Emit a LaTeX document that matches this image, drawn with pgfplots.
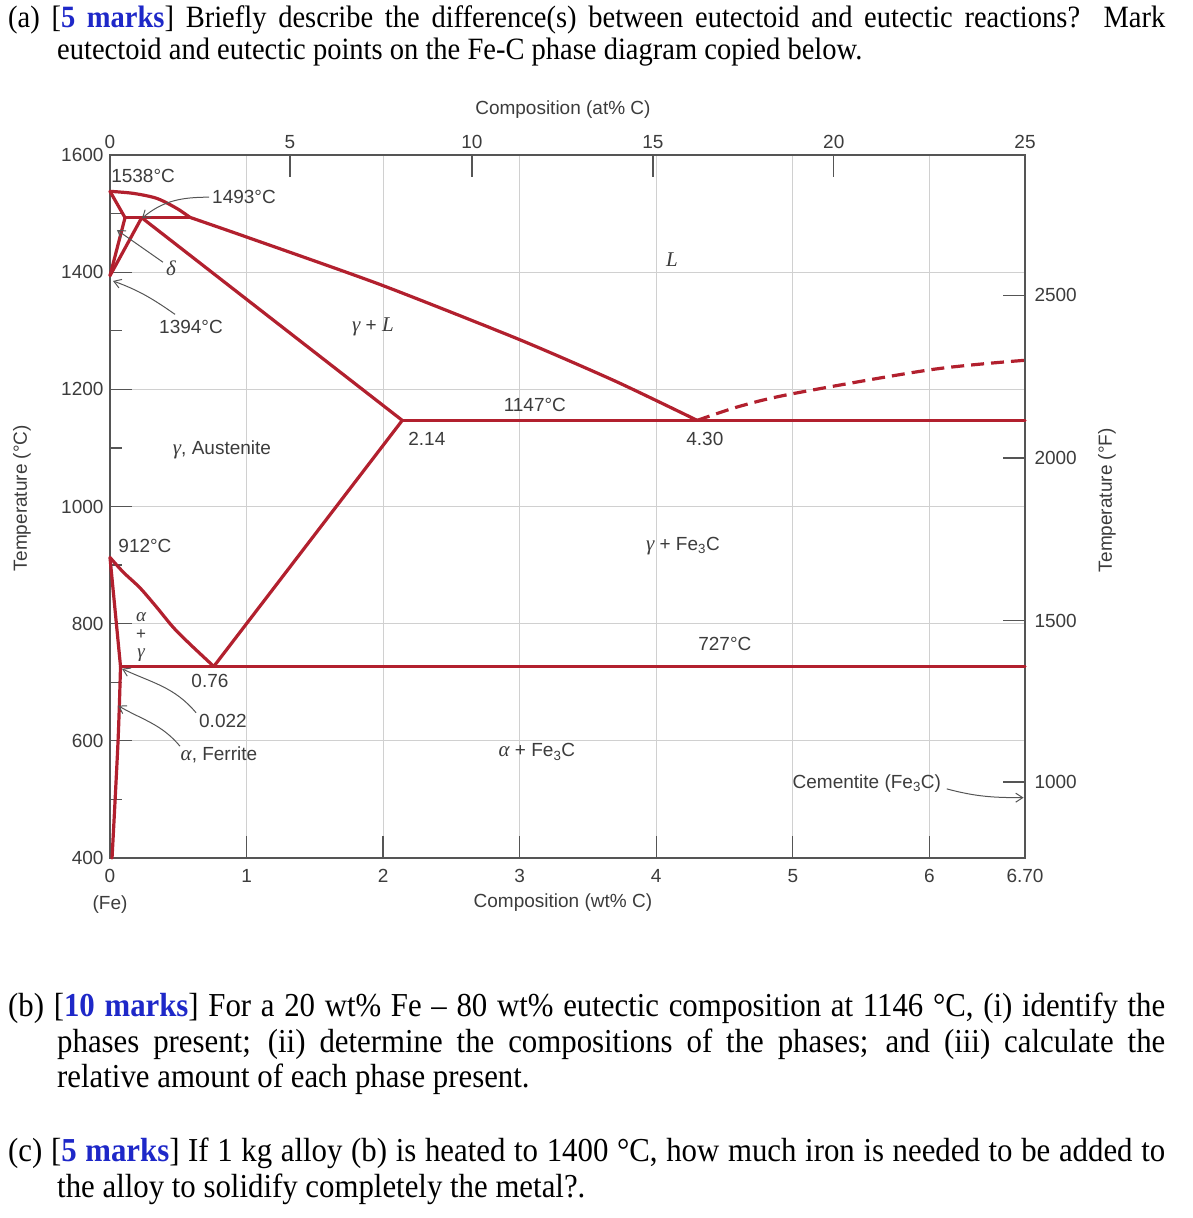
\documentclass[border=0pt]{standalone}
\usepackage{fontspec}
\setmainfont{Liberation Serif}
\setsansfont{Liberation Sans}
\newfontfamily\qfont{Liberation Serif}[FakeStretch=0.92]
\usepackage{pgfplots}
\pgfplotsset{compat=1.18}
\usetikzlibrary{arrows.meta}
\definecolor{fered}{RGB}{178,32,46}
\definecolor{txt}{RGB}{60,60,60}
\definecolor{axc}{RGB}{85,85,85}
\definecolor{gridc}{RGB}{208,208,208}
\definecolor{qblue}{RGB}{30,40,200}
\newcommand{\cf}{\sffamily\fontsize{19}{22}\selectfont}
\newcommand{\gk}[1]{{\rmfamily\itshape\fontsize{21}{22}\selectfont #1}}
\newcommand{\gks}[1]{{\rmfamily\itshape\fontsize{19}{20}\selectfont #1}}
\newcommand{\qf}{\qfont\fontsize{31}{32}\selectfont}
\newcommand{\qfb}{\qfont\fontsize{33.5}{35.5}\selectfont}
\begin{document}
\begin{tikzpicture}
\path[use as bounding box] (0pt,0pt) rectangle (1192pt,-1218pt);
% ---------- question text ----------
\node[anchor=north west, inner sep=0pt, font=\qf] at (8pt,-5pt)
{\begin{minipage}[t]{1157pt}\noindent\hangindent=49pt\hangafter=1 (a) [\textcolor{qblue}{\textbf{5 marks}}] Briefly describe the difference(s) between eutectoid and eutectic reactions?\ \ Mark\linebreak eutectoid and eutectic points on the Fe-C phase diagram copied below.\end{minipage}};
\node[anchor=north west, inner sep=0pt, font=\qfb] at (8pt,-993pt)
{\begin{minipage}[t]{1157pt}\noindent\hangindent=49pt\hangafter=1 (b) [\textcolor{qblue}{\textbf{10 marks}}] For a 20 wt\% Fe – 80 wt\% eutectic composition at 1146 °C, (i) identify the\linebreak phases present; (ii) determine the compositions of the phases; and (iii) calculate the\linebreak relative amount of each phase present.\end{minipage}};
\node[anchor=north west, inner sep=0pt, font=\qfb] at (8pt,-1138pt)
{\begin{minipage}[t]{1157pt}\noindent\hangindent=49pt\hangafter=1 (c) [\textcolor{qblue}{\textbf{5 marks}}] If 1 kg alloy (b) is heated to 1400 °C, how much iron is needed to be added to\linebreak the alloy to solidify completely the metal?.\end{minipage}};
% ---------- top / right secondary scales ----------
\begin{axis}[
  at={(110pt,-858pt)}, anchor=south west,
  scale only axis, width=915pt, height=703pt,
  xmin=0, xmax=6.7, ymin=400, ymax=1600,
  axis line style={draw=axc, line width=1.3pt},
  tick align=inside, major tick length=22pt,
  tick style={axc, line width=1.3pt},
  xtick pos=top, ytick pos=right,
  xtick={1.318,2.65,3.975,5.30}, xticklabels={5,10,15,20},
  extra x ticks={0,6.7}, extra x tick labels={0,25},
  extra x tick style={major tick length=0pt},
  ytick={530,805,1083,1360.7}, yticklabels={1000,1500,2000,2500},
  ticklabel style={font=\cf, text=txt},
  xticklabel style={yshift=3pt},
  yticklabel style={xshift=6pt},
  /pgf/number format/assume math mode=true,
  xlabel={Composition (at\% C)},
  xlabel style={at={(axis description cs:0.495,1.064)}, anchor=center, font=\cf, text=txt},
  ylabel={Temperature (°F)},
  ylabel style={at={(axis description cs:1.0896,0.509)}, anchor=center, font=\cf, text=txt},
]
\end{axis}
% ---------- main diagram ----------
\begin{axis}[
  at={(110pt,-858pt)}, anchor=south west,
  scale only axis, width=915pt, height=703pt,
  xmin=0, xmax=6.7, ymin=400, ymax=1600,
  clip=false,
  axis line style={draw=axc, line width=1.3pt},
  tick align=inside, major tick length=22pt, minor tick length=12pt,
  tick style={axc, line width=1.3pt},
  xtick pos=bottom, ytick pos=left,
  xtick={1,2,3,4,5,6}, xticklabels={1,2,3,4,5,6},
  ytick={600,800,1000,1200,1400}, yticklabels={600,800,1000,1200,1400},
  minor ytick={500,700,900,1100,1300,1500},
  extra x ticks={0,6.7}, extra x tick labels={0,6.70},
  extra y ticks={400,1600}, extra y tick labels={400,1600},
  extra tick style={grid=none, major tick length=0pt},
  grid=major, grid style={gridc, line width=1pt},
  ticklabel style={font=\cf, text=txt},
  xticklabel style={yshift=-8pt},
  yticklabel style={xshift=-3pt},
  /pgf/number format/assume math mode=true,
  xlabel={Composition (wt\% C)},
  xlabel style={at={(axis description cs:0.495,-0.064)}, anchor=center, font=\cf, text=txt},
  ylabel={Temperature (°C)},
  ylabel style={at={(axis description cs:-0.0962,0.512)}, anchor=center, font=\cf, text=txt},
  fe/.style={fered, line width=3.2pt, line join=round, line cap=round, mark=none},
]
% liquidus (delta part)
\addplot[fe, smooth] coordinates {(0,1538) (0.171,1534.5) (0.342,1526) (0.488,1509) (0.586,1493.5)};
% liquidus (gamma part)
\addplot[fe, smooth, tension=0.4] coordinates {(0.586,1493.5) (1.0,1460) (1.977,1379) (2.987,1286) (3.7,1214) (4.30,1147)};
% peritectic line
\addplot[fe] coordinates {(0.11,1493) (0.586,1493)};
% delta solidus
\addplot[fe] coordinates {(0,1538) (0.11,1493)};
% delta / delta+gamma
\addplot[fe] coordinates {(0.11,1493) (0,1394)};
% gamma / delta+gamma
\addplot[fe] coordinates {(0.232,1493) (0,1394)};
% gamma solidus
\addplot[fe] coordinates {(0.232,1493) (2.14,1147)};
% eutectic line
\addplot[fe] coordinates {(2.14,1147) (6.70,1147)};
% Acm
\addplot[fe] coordinates {(2.14,1147) (0.76,727)};
% A3
\addplot[fe, smooth] coordinates {(0,913) (0.098,887.7) (0.22,861) (0.342,828) (0.463,793.7) (0.586,765) (0.76,727)};
% alpha / alpha+gamma
\addplot[fe] coordinates {(0,913) (0.077,727)};
% solvus
\addplot[fe, smooth] coordinates {(0.077,727) (0.059,600) (0.015,400)};
% eutectoid line
\addplot[fe] coordinates {(0.077,727) (6.70,727)};
% dashed liquidus
\addplot[fe, smooth, dash pattern=on 13pt off 7pt, line cap=butt] coordinates {(4.30,1147) (4.61,1171) (5.0,1192.6) (6.015,1233.7) (6.70,1249.6)};
% ---------- annotations ----------
\begin{scope}[every node/.style={font=\cf, text=txt, inner sep=0pt}]
\node[anchor=west] at (axis cs:0.008,1564) {1538°C};
\node[anchor=west] at (axis cs:0.747,1528) {1493°C};
\node at (axis cs:0.447,1407) {\gk{δ}};
\node at (axis cs:0.593,1306) {1394°C};
\node at (axis cs:4.114,1422) {\gk{L}};
\node at (axis cs:1.925,1306) {\gk{γ} + \gk{L}};
\node at (axis cs:3.111,1173) {1147°C};
\node at (axis cs:2.32,1116) {2.14};
\node at (axis cs:4.356,1116) {4.30};
\node at (axis cs:0.82,1096) {\gk{γ}, Austenite};
\node at (axis cs:0.256,933) {912°C};
\node at (axis cs:4.195,933) {\gk{γ} + Fe\textsubscript{3}C};
\node at (axis cs:0.227,811) {\gks{α}};
\node[font=\sffamily\fontsize{17}{18}\selectfont] at (axis cs:0.227,781) {+};
\node at (axis cs:0.227,746) {\gks{γ}};
\node at (axis cs:4.502,766) {727°C};
\node at (axis cs:0.732,703) {0.76};
\node at (axis cs:0.827,634) {0.022};
\node at (axis cs:0.798,576) {\gk{α}, Ferrite};
\node at (axis cs:3.126,581) {\gk{α} + Fe\textsubscript{3}C};
\node at (axis cs:5.542,527) {Cementite (Fe\textsubscript{3}C)};
\end{scope}
\begin{scope}[draw=axc, line width=1pt, -{Straight Barb[length=7pt,width=9pt]}]
\draw (axis cs:0.725,1528) to[out=180,in=40] (axis cs:0.234,1492);
\draw (axis cs:0.388,1417) to[out=145,in=-35] (axis cs:0.051,1472);
\draw (axis cs:0.476,1328) to[out=145,in=-20] (axis cs:0.022,1385);
\draw (axis cs:0.63,648) to[out=130,in=-25] (axis cs:0.088,723);
\draw (axis cs:0.512,591) to[out=130,in=-30] (axis cs:0.059,660);
\draw (axis cs:6.127,518) to[out=-15,in=180] (axis cs:6.69,503);
\end{scope}
\node[font=\cf, text=txt] at (axis cs:0,320) {(Fe)};
\end{axis}
\end{tikzpicture}
\end{document}
